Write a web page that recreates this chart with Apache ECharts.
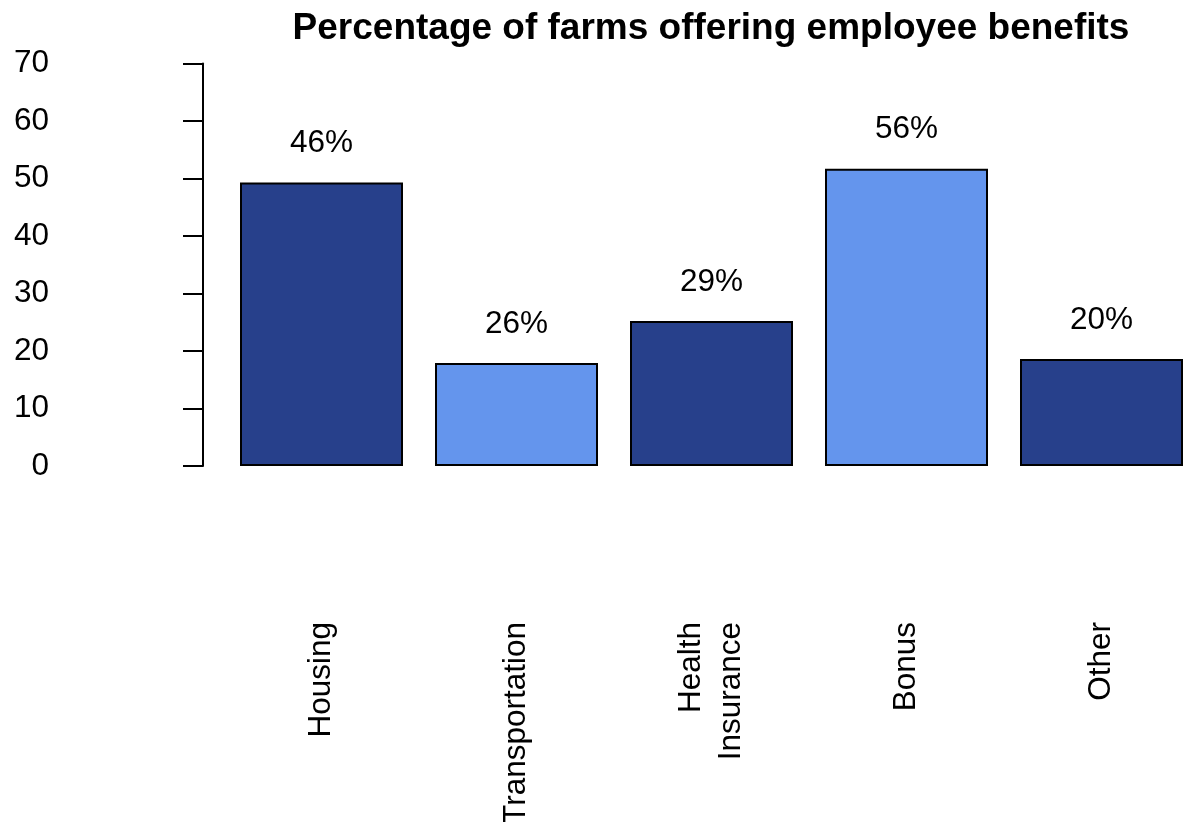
<!DOCTYPE html>
<html>
<head>
<meta charset="utf-8">
<script src="https://cdn.jsdelivr.net/npm/echarts@6/dist/echarts.min.js"></script>
<style>html,body{margin:0;padding:0;background:#fff}#c{width:1185px;height:822px}</style>
</head>
<body>
<div id="c"></div>
<script>
const categories = ['Housing', 'Transportation', 'Health\nInsurance', 'Bonus', 'Other'];
const values = [49.3, 17.9, 25.2, 51.7, 18.6];
const valueLabels = ['46%', '26%', '29%', '56%', '20%'];
const barColors = ['#27408B', '#6495ED', '#27408B', '#6495ED', '#27408B'];
const yTicks = [0, 10, 20, 30, 40, 50, 60, 70];

const FONT = 'Liberation Sans, Arial, sans-serif';
const chart = echarts.init(document.getElementById('c'), null, {renderer: 'canvas'});
chart.setOption({
  animation: false,
  backgroundColor: '#ffffff',
  title: {
    text: 'Percentage of farms offering employee benefits',
    left: 706, top: 5, textAlign: 'center',
    textStyle: {fontFamily: FONT, fontSize: 37, fontWeight: 'bold', color: '#000'}
  },
  grid: {left: 224, width: 975, top: 63.5, height: 402.5, containLabel: false, outerBoundsMode: 'none'},
  xAxis: {
    type: 'category', data: categories,
    axisLine: {show: false}, axisTick: {show: false},
    axisLabel: {
      rotate: 90, margin: 156, interval: 0,
      fontFamily: FONT, fontSize: 31.5, color: '#000', lineHeight: 40
    }
  },
  yAxis: {
    type: 'value', min: yTicks[0], max: yTicks[yTicks.length - 1], interval: 10,
    position: 'left', offset: 21,
    axisLine: {show: true, lineStyle: {color: '#000', width: 2}},
    axisTick: {show: true, length: 20, lineStyle: {color: '#000', width: 2}},
    splitLine: {show: false},
    axisLabel: {margin: 154, fontFamily: FONT, fontSize: 31.5, color: '#000', align: 'right'}
  },
  series: [{
    type: 'bar', barWidth: 163,
    data: values.map((v, i) => ({
      value: v,
      itemStyle: {color: barColors[i], borderColor: '#000', borderWidth: 2}
    })),
    label: {
      show: true, position: 'top', distance: 23,
      formatter: p => valueLabels[p.dataIndex],
      fontFamily: FONT, fontSize: 31.5, color: '#000'
    }
  }]
});
</script>
</body>
</html>
